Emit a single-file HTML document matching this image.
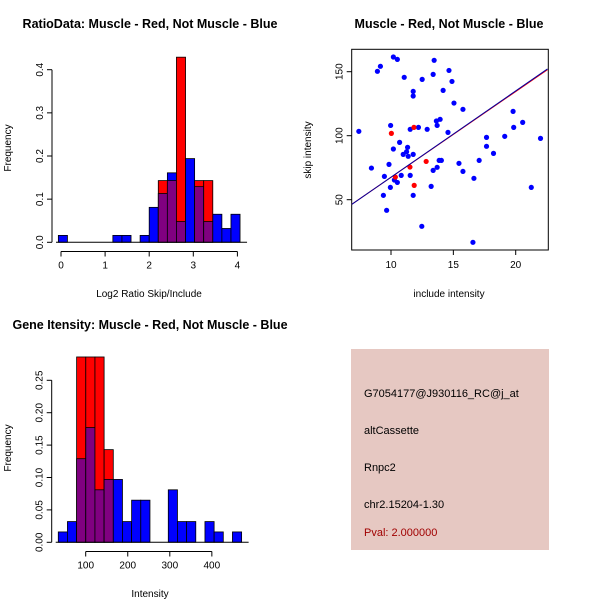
<!DOCTYPE html>
<html><head><meta charset="utf-8"><style>
body{margin:0;background:#fff;}
svg{display:block;font-family:"Liberation Sans",sans-serif;}
</style></head><body>
<svg id="c" width="600" height="600" viewBox="0 0 600 600" xmlns="http://www.w3.org/2000/svg">
<rect width="600" height="600" fill="#fff"/>
<text x="150" y="28" font-size="12.5" font-weight="bold" text-anchor="middle">RatioData: Muscle - Red, Not Muscle - Blue</text>
<text x="449" y="28" font-size="12.5" font-weight="bold" text-anchor="middle">Muscle - Red, Not Muscle - Blue</text>
<text x="150" y="329" font-size="12.5" font-weight="bold" text-anchor="middle">Gene Itensity: Muscle - Red, Not Muscle - Blue</text>
<text x="149" y="297" font-size="10" text-anchor="middle">Log2 Ratio Skip/Include</text>
<text x="11" y="148" font-size="10" text-anchor="middle" transform="rotate(-90 11 148)">Frequency</text>
<text x="449" y="297" font-size="10" text-anchor="middle">include intensity</text>
<text x="311" y="150" font-size="10" text-anchor="middle" transform="rotate(-90 311 150)">skip intensity</text>
<text x="150" y="597" font-size="10" text-anchor="middle">Intensity</text>
<text x="11" y="448" font-size="10" text-anchor="middle" transform="rotate(-90 11 448)">Frequency</text>
<g id="p1"></g>
<g id="p2"></g>
<g id="p3"></g>
<g>
<rect x="351" y="349" width="198" height="201" fill="#e6c8c2"/>
<text x="364" y="397" font-size="11">G7054177@J930116_RC@j_at</text>
<text x="364" y="434" font-size="11">altCassette</text>
<text x="364" y="471" font-size="11">Rnpc2</text>
<text x="364" y="508" font-size="11">chr2.15204-1.30</text>
<text x="364" y="536" font-size="11" fill="#a00000">Pval: 2.000000</text>
</g>
</svg>
<script>
// Ratio histogram data
const ratioBreakStart = -0.06, ratioBinWidth = 0.206;
const ratioBlue = [0.016,0,0,0,0,0,0.016,0.016,0,0.016,0.081,0.113,0.161,0.048,0.194,0.129,0.048,0.065,0.032,0.065];
const ratioRed  = [0,0,0,0,0,0,0,0,0,0,0,0.143,0.143,0.429,0,0.143,0.143,0,0,0];
const ratioXTicks = [0,1,2,3,4];
const ratioYTicks = [0.0,0.1,0.2,0.3,0.4];
// Intensity histogram data
const intBreakStart = 34.8, intBinWidth = 21.8;
const intBlue = [0.016,0.032,0.129,0.177,0.081,0.097,0.097,0.032,0.065,0.065,0,0,0.081,0.032,0.032,0,0.032,0.016,0,0.016];
const intRed  = [0,0,0.286,0.286,0.286,0.143,0,0,0,0,0,0,0,0,0,0,0,0,0,0];
const intXTicks = [100,200,300,400];
const intYTicks = [0.00,0.05,0.10,0.15,0.20,0.25];
// Scatter data
const blueX = [7.42,8.91,9.15,10.19,10.51,11.06,12.5,11.78,11.78,13.46,13.38,14.65,14.89,14.18,15.05,15.77,9.97,11.54,12.2,12.9,13.64,13.94,13.7,14.57,10.19,10.69,10.98,11.33,11.38,11.25,11.78,8.43,9.84,9.47,10.27,10.51,10.82,11.54,9.95,9.39,11.78,9.65,12.47,13.22,13.38,13.7,13.86,14.04,15.45,15.77,16.65,17.07,17.66,17.66,18.22,19.12,19.79,19.84,20.56,21.99,21.25,16.57];
const blueY = [103.4,150.3,154.2,161.5,159.6,145.6,144,134.6,131,158.9,147.9,151,142.4,135.4,125.5,120.6,108,105,106.5,105,111.5,112.8,108,102.6,89.6,94.8,85.4,90.9,83.9,87.5,85.4,74.7,77.6,68.2,65.4,63.5,69,69,59.6,53.4,53.4,41.7,29.2,60.4,72.9,75.3,80.7,80.7,78.4,72.1,66.7,80.7,98.7,91.7,86.2,99.5,119,106.5,110.4,97.9,59.6,16.7];
const redX = [10.03,11.84,11.52,12.82,10.35,11.86];
const redY = [101.8,106.5,75.5,79.9,67.7,61.2];
const fitBlue = [0.16,6.74];
const fitRed = [0.5,6.70];
const scatterXTicks = [10,15,20];
const scatterYTicks = [50,100,150];

const NS="http://www.w3.org/2000/svg";
function mk(parent,tag,attrs){const e=document.createElementNS(NS,tag);for(const k in attrs)e.setAttribute(k,attrs[k]);parent.appendChild(e);return e;}

function histogram(g,o){
  const sx=v=>o.x0px+(v-o.x0v)*o.pxPerX;
  const sy=v=>o.y0px-v*o.pxPerY;
  for(let i=0;i<o.blue.length;i++){
    const a=o.start+i*o.width,b=a+o.width;
    const x1=sx(a),x2=sx(b);
    const bv=o.blue[i],rv=o.red[i];
    const hi=Math.max(bv,rv),lo=Math.min(bv,rv);
    if(hi>0){
      const r=mk(g,'rect',{x:x1,y:sy(hi),width:x2-x1,height:sy(0)-sy(hi),fill:rv>bv?'#ff0000':'#0000ff',stroke:'#000','stroke-width':0.8});
      
      
    }
    if(lo>0){
      const p=mk(g,'rect',{x:x1,y:sy(lo),width:x2-x1,height:sy(0)-sy(lo),fill:'#800080',stroke:'#000','stroke-width':0.8});
      
      
    }
  }
  const ya=mk(g,'line',{x1:o.yAxisX,x2:o.yAxisX,y1:sy(o.yTicks[0]),y2:sy(o.yTicks[o.yTicks.length-1]),stroke:'#000'});
  
  
  o.yTicks.forEach(t=>{
    mk(g,'line',{x1:o.yAxisX-5,x2:o.yAxisX,y1:sy(t),y2:sy(t),stroke:'#000'});
    const tx=mk(g,'text',{x:o.yAxisX-9,y:sy(t),'font-size':10,'text-anchor':'middle',transform:`rotate(-90 ${o.yAxisX-9} ${sy(t)})`});
    tx.textContent=t.toFixed(o.yDec);
    
    
  });
  const xa=mk(g,'line',{x1:sx(o.xTicks[0]),x2:sx(o.xTicks[o.xTicks.length-1]),y1:o.xAxisY,y2:o.xAxisY,stroke:'#000'});
  
  
  o.xTicks.forEach(t=>{
    mk(g,'line',{x1:sx(t),x2:sx(t),y1:o.xAxisY,y2:o.xAxisY+5,stroke:'#000'});
    const tx=mk(g,'text',{x:sx(t),y:o.xAxisY+17,'font-size':10,'text-anchor':'middle'});
    tx.textContent=t;
    
    
  });
  mk(g,'line',{x1:o.yAxisX+4,x2:sx(o.start+o.width*o.blue.length)+7,y1:sy(0),y2:sy(0),stroke:'#000'});
}

histogram(document.getElementById('p1'),{blue:ratioBlue,red:ratioRed,start:ratioBreakStart,width:ratioBinWidth,
  x0v:0,x0px:61,pxPerX:44.1,y0px:242.3,pxPerY:431.5,yAxisX:52,xAxisY:251.5,xTicks:ratioXTicks,yTicks:ratioYTicks,yDec:1});
histogram(document.getElementById('p3'),{blue:intBlue,red:intRed,start:intBreakStart,width:intBinWidth,
  x0v:100,x0px:85.7,pxPerX:0.4205,y0px:542.3,pxPerY:648,yAxisX:51.7,xAxisY:551.5,xTicks:intXTicks,yTicks:intYTicks,yDec:2});

(function(){
  const g=document.getElementById('p2');
  const L=351.7,R=548.3,T=49.3,B=250;
  const sx=v=>391+(v-10)*12.47;
  const sy=v=>135.7-(v-100)*1.28;
  const box=mk(g,'rect',{x:L,y:T,width:R-L,height:B-T,fill:'none',stroke:'#000'});
  
  
  scatterXTicks.forEach(t=>{
    mk(g,'line',{x1:sx(t),x2:sx(t),y1:B,y2:B+5,stroke:'#000'});
    const tx=mk(g,'text',{x:sx(t),y:B+18,'font-size':10,'text-anchor':'middle'});
    tx.textContent=t;
    
    
  });
  scatterYTicks.forEach(t=>{
    mk(g,'line',{x1:L-5,x2:L,y1:sy(t),y2:sy(t),stroke:'#000'});
    const tx=mk(g,'text',{x:L-9,y:sy(t),'font-size':10,'text-anchor':'middle',transform:`rotate(-90 ${L-9} ${sy(t)})`});
    tx.textContent=t;
    
    
  });
  blueX.forEach((x,i)=>{
    const c=mk(g,'circle',{cx:sx(x),cy:sy(blueY[i]),r:2.6,fill:'#0000ff'});
    
    
  });
  redX.forEach((x,i)=>{
    const c=mk(g,'circle',{cx:sx(x),cy:sy(redY[i]),r:2.6,fill:'#ff0000'});
    
    
  });
  const xa=6.86,xb=22.55;
  const lr=mk(g,'line',{x1:sx(xa),y1:sy(fitRed[0]+fitRed[1]*xa),x2:sx(xb),y2:sy(fitRed[0]+fitRed[1]*xb),stroke:'#ff0000','stroke-width':1});
  
  
  const lb=mk(g,'line',{x1:sx(xa),y1:sy(fitBlue[0]+fitBlue[1]*xa),x2:sx(xb),y2:sy(fitBlue[0]+fitBlue[1]*xb),stroke:'#0000a0','stroke-width':1});
  
  
})();
</script>
</body></html>
